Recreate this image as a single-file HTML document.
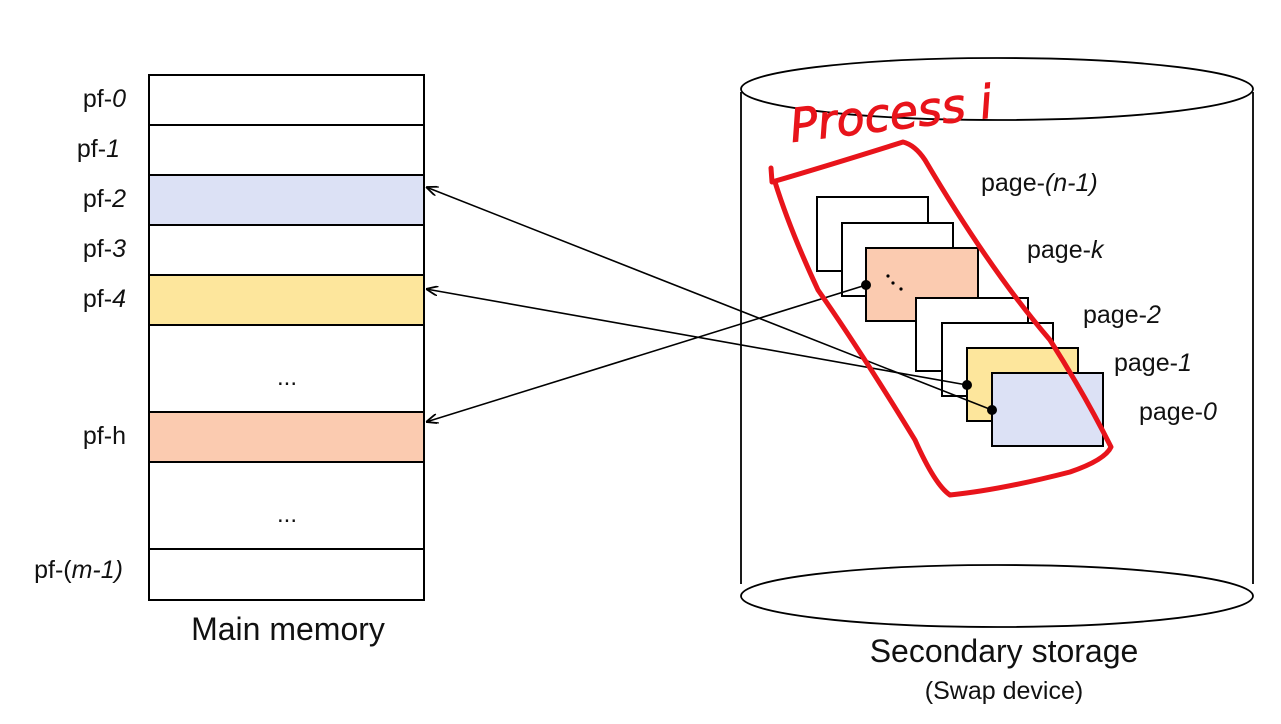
<!DOCTYPE html>
<html><head><meta charset="utf-8"><style>
html,body{margin:0;padding:0;background:#fff;}
svg{display:block;}
text{font-family:"Liberation Sans",sans-serif;fill:#111;}
</style></head><body>
<svg width="1281" height="724" viewBox="0 0 1281 724" xmlns="http://www.w3.org/2000/svg">
<defs>
<marker id="ah" viewBox="0 0 12 10" refX="12" refY="5" markerWidth="12" markerHeight="10" orient="auto" markerUnits="userSpaceOnUse">
<path d="M0,0 L12,5 L0,10" fill="none" stroke="#000" stroke-width="1.8"/>
</marker>
</defs>
<!-- main memory -->
<g stroke="#000" stroke-width="2">
<rect x="149" y="75" width="275" height="525" fill="#fff"/>
<rect x="149" y="175" width="275" height="50" fill="#dce1f5"/>
<rect x="149" y="275" width="275" height="50" fill="#fde69c"/>
<rect x="149" y="412" width="275" height="50" fill="#fbcbb0"/>
<line x1="149" y1="125" x2="424" y2="125"/>
<line x1="149" y1="549" x2="424" y2="549"/>
</g>
<g font-size="25" text-anchor="end">
<text x="126" y="107">pf-<tspan font-style="italic">0</tspan></text>
<text x="120" y="157">pf-<tspan font-style="italic">1</tspan></text>
<text x="126" y="207">pf-<tspan font-style="italic">2</tspan></text>
<text x="126" y="257">pf-<tspan font-style="italic">3</tspan></text>
<text x="126" y="307">pf-<tspan font-style="italic">4</tspan></text>
<text x="126" y="444">pf-h</text>
<text x="123" y="578">pf-(<tspan font-style="italic">m-1)</tspan></text>
</g>
<text x="287" y="385" font-size="24" text-anchor="middle">...</text>
<text x="287" y="522" font-size="24" text-anchor="middle">...</text>
<text x="288" y="640" font-size="32" text-anchor="middle">Main memory</text>
<!-- cylinder -->
<g stroke="#000" stroke-width="1.8" fill="none">
<ellipse cx="997" cy="89" rx="256" ry="31"/>
<ellipse cx="997" cy="596" rx="256" ry="31" fill="#fff"/>
<line x1="741" y1="92" x2="741" y2="584"/>
<line x1="1253" y1="92" x2="1253" y2="584"/>
</g>
<text x="1004" y="662" font-size="32" text-anchor="middle">Secondary storage</text>
<text x="1004" y="699" font-size="25" text-anchor="middle">(Swap device)</text>
<!-- pages -->
<g stroke="#000" stroke-width="2">
<rect x="817" y="197" width="111" height="74" fill="#fff"/>
<rect x="842" y="223" width="111" height="73" fill="#fff"/>
<rect x="866" y="248" width="112" height="73" fill="#fbcbb0"/>
<rect x="916" y="298" width="112" height="73" fill="#fff"/>
<rect x="942" y="323" width="111" height="73" fill="#fff"/>
<rect x="967" y="348" width="111" height="73" fill="#fde69c"/>
<rect x="992" y="373" width="111" height="73" fill="#dce1f5"/>
</g>
<g fill="#000"><circle cx="888" cy="276" r="1.6"/><circle cx="893" cy="283" r="1.6"/><circle cx="901" cy="289" r="1.6"/></g>
<g font-size="25">
<text x="981" y="191">page-<tspan font-style="italic">(n-1)</tspan></text>
<text x="1027" y="258">page-<tspan font-style="italic">k</tspan></text>
<text x="1083" y="323">page-<tspan font-style="italic">2</tspan></text>
<text x="1114" y="371">page-<tspan font-style="italic">1</tspan></text>
<text x="1139" y="420">page-<tspan font-style="italic">0</tspan></text>
</g>
<!-- arrows -->
<g stroke="#000" stroke-width="1.6" fill="none">
<line x1="866" y1="285" x2="426" y2="422" marker-end="url(#ah)"/>
<line x1="967" y1="385" x2="426" y2="289" marker-end="url(#ah)"/>
<line x1="992" y1="410" x2="426" y2="187" marker-end="url(#ah)"/>
</g>
<g fill="#000"><circle cx="866" cy="285" r="5"/><circle cx="967" cy="385" r="5"/><circle cx="992" cy="410" r="5"/></g>
<!-- red annotation -->
<path d="M771,168 L772,182 Q830,165 903,142 Q915,145 925,160 Q990,270 1050,340 Q1085,395 1111,447 Q1105,460 1070,472 Q1000,490 950,495 Q935,485 915,440 Q860,350 818,290 Q790,230 775,182" fill="none" stroke="#e8141b" stroke-width="5" stroke-linejoin="round" stroke-linecap="round"/>
<text x="792" y="142" font-size="46" font-style="italic" transform="rotate(-7 792 142)" style="fill:#e8141b;stroke:#e8141b;stroke-width:1;font-family:'DejaVu Sans',sans-serif">Process i</text>
</svg>
</body></html>
